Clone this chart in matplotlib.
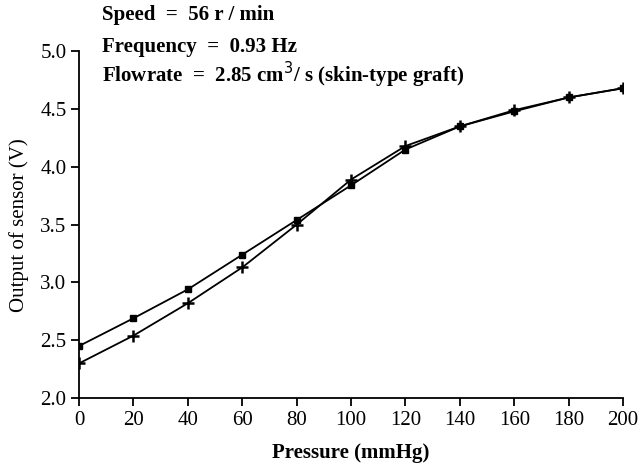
import matplotlib.pyplot as plt

plt.rcParams['font.family'] = ['Liberation Serif', 'DejaVu Serif']

pressure = [0, 20, 40, 60, 80, 100, 120, 140, 160, 180, 200]
out_sq = [2.45, 2.69, 2.94, 3.24, 3.54, 3.84, 4.15, 4.35, 4.48, 4.60, 4.68]
out_plus = [2.30, 2.54, 2.82, 3.13, 3.50, 3.89, 4.18, 4.35, 4.49, 4.60, 4.68]

fig = plt.figure(figsize=(6.41, 4.70), dpi=100)
ax = fig.add_axes([0.1232, 0.153, 0.8488, 0.738])

ax.plot(pressure, out_sq, color='black', lw=1.3, marker='s', ms=4)
ax.plot(pressure, out_plus, color='black', lw=1.3, marker='+', ms=9, mew=1.8)

ax.set_xlim(0, 200)
ax.set_ylim(2.0, 5.0)
ax.set_xticks(range(0, 201, 20))
ax.set_yticks([2.0, 2.5, 3.0, 3.5, 4.0, 4.5, 5.0])
ax.yaxis.set_major_formatter(plt.FormatStrFormatter('%.1f'))
ax.tick_params(direction='out', length=6, width=1.3, labelsize=15, pad=3)
for s in ['top', 'right']:
    ax.spines[s].set_visible(False)
for s in ['left', 'bottom']:
    ax.spines[s].set_linewidth(1.3)

ax.set_xlabel('Pressure (mmHg)', fontsize=15, fontweight='bold', labelpad=10)
ax.set_ylabel('Output of sensor (V)', fontsize=15, labelpad=8)

fig.text(0.159, 0.968, 'Speed  =  56 r / min', fontsize=15, fontweight='bold', va='center')
fig.text(0.159, 0.90, 'Frequency  =  0.93 Hz', fontsize=15, fontweight='bold', va='center')
fig.text(0.159, 0.84, 'Flowrate  =  2.85 cm$^3$/ s (skin-type graft)', fontsize=15,
         fontweight='bold', va='center')

fig.savefig('out.png', dpi=100)
